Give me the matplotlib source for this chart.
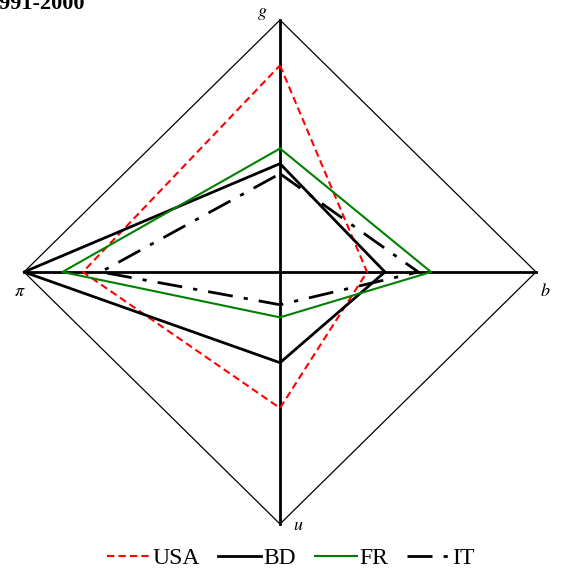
import matplotlib
matplotlib.use("Agg")
import matplotlib.pyplot as plt
from matplotlib.lines import Line2D

plt.rcParams["font.family"] = ["Liberation Serif", "DejaVu Serif"]
plt.rcParams["mathtext.fontset"] = "stix"

# axis order: g (up), b (right), u (down), pi (left)
axes_names = ["g", "b", "u", r"\pi"]
countries = ["USA", "BD", "FR", "IT"]
usa = [0.82, 0.34, 0.54, 0.77]
bd = [0.43, 0.41, 0.36, 1.00]
fr = [0.49, 0.59, 0.18, 0.85]
it = [0.39, 0.54, 0.13, 0.70]

styles = {
    "USA": dict(color="red", ls=(0, (3.5, 2)), lw=1.5),
    "BD": dict(color="black", ls="-", lw=2.0),
    "FR": dict(color="#008000", ls="-", lw=1.5),
    "IT": dict(color="black", ls=(0, (9, 4, 1.5, 4)), lw=2.0),
}

W, H = 562, 580
cx, cy = 280, 272      # centre in pixels (from top-left)
sx, sy = 256, 252      # pixels per unit

fig = plt.figure(figsize=(W / 100, H / 100), dpi=100)
ax = fig.add_axes([0, 0, 1, 1])
ax.set_xlim(-cx / sx, (W - cx) / sx)
ax.set_ylim(-(H - cy) / sy, cy / sy)
ax.axis("off")

dirs = [(0, 1), (1, 0), (0, -1), (-1, 0)]

# outer diamond and axes
ox = [d[0] for d in dirs] + [dirs[0][0]]
oy = [d[1] for d in dirs] + [dirs[0][1]]
ax.plot(ox, oy, color="black", lw=0.9)
ax.plot([0, 0], [-1, 1], color="black", lw=2.0)
ax.plot([-1, 1], [0, 0], color="black", lw=2.0)

for name, vals in zip(countries, [usa, bd, fr, it]):
    xs = [v * d[0] for v, d in zip(vals, dirs)]
    ys = [v * d[1] for v, d in zip(vals, dirs)]
    ax.plot(xs + xs[:1], ys + ys[:1], **styles[name])

# axis labels
lab_pos = [((262 - cx) / sx, (cy - 14) / sy),
           ((545 - cx) / sx, (cy - 292) / sy),
           ((298 - cx) / sx, (cy - 525) / sy),
           ((20 - cx) / sx, (cy - 292) / sy)]
for nm, (lx, ly) in zip(axes_names, lab_pos):
    ax.text(lx, ly, "$" + nm + "$", ha="center", va="center", fontsize=13)

fig.text(85 / W, 1 - 9 / H, "1991-2000", ha="right", va="baseline",
         fontsize=16, fontweight="bold")

handles = [Line2D([], [], **styles[n]) for n in countries]
fig.legend(handles, countries, loc="center", ncol=4,
           bbox_to_anchor=(291 / W, 1 - 558 / H), frameon=False,
           fontsize=17, handlelength=1.8, handletextpad=0.1,
           columnspacing=0.8)

fig.savefig("out.png", dpi=100)
